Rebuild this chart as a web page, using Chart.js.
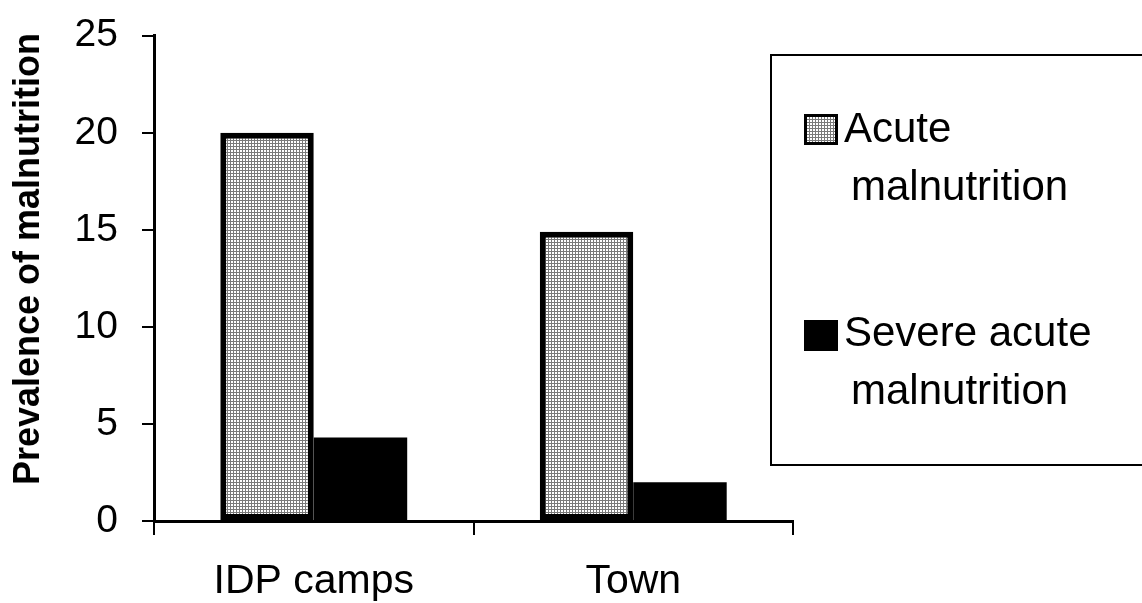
<!DOCTYPE html>
<html>
<head>
<meta charset="utf-8">
<title>Prevalence of malnutrition</title>
<script src="https://cdn.jsdelivr.net/npm/chart.js@4.4.1/dist/chart.umd.min.js"></script>
<style>
  html, body { margin: 0; padding: 0; background: #ffffff; }
  #wrap { width: 1142px; height: 603px; }
</style>
</head>
<body>
<div id="wrap"><canvas id="chart" width="1142" height="603"></canvas></div>
<script>
// Survey groups and prevalence (%) of each malnutrition type
const categories = ['IDP camps', 'Town'];
const acuteValues = [20, 14.9];
const severeValues = [4.3, 2.0];
const seriesLabels = [['Acute', 'malnutrition'], ['Severe acute', 'malnutrition']];
const yTicks = [0, 5, 10, 15, 20, 25];
const yTitle = 'Prevalence of malnutrition';

const FONT = '"Liberation Sans", Arial, Helvetica, sans-serif';

// Fine dotted grey fill used for the acute bars
function makeDotPattern() {
  const c = document.createElement('canvas');
  c.width = 3; c.height = 3;
  const g = c.getContext('2d');
  g.fillStyle = '#ffffff';
  g.fillRect(0, 0, 3, 3);
  g.fillStyle = '#7a7a7a';
  g.fillRect(0, 2, 3, 1);
  g.fillRect(2, 0, 1, 3);
  return document.getElementById('chart').getContext('2d').createPattern(c, 'repeat');
}
const dotPattern = makeDotPattern();

// Boxed legend with wrapped labels on the right side
const boxedLegend = {
  id: 'boxedLegend',
  afterDraw(chart) {
    const ctx = chart.ctx;
    ctx.save();
    ctx.strokeStyle = '#000';
    ctx.lineWidth = 2;
    ctx.strokeRect(771, 55, 400, 410);
    const rows = [
      { markerTop: 114, baselines: [142, 200] },
      { markerTop: 320, baselines: [346, 404] }
    ];
    ctx.font = '42px ' + FONT;
    ctx.textBaseline = 'alphabetic';
    chart.data.datasets.forEach((ds, i) => {
      const r = rows[i];
      ctx.fillStyle = ds.backgroundColor;
      ctx.fillRect(804, r.markerTop, 34, 31);
      ctx.strokeStyle = '#000';
      ctx.lineWidth = 3;
      ctx.strokeRect(805.5, r.markerTop + 1.5, 31, 28);
      ctx.fillStyle = '#000';
      seriesLabels[i].forEach((line, j) => {
        ctx.fillText(line, j === 0 ? 844 : 851, r.baselines[j]);
      });
    });
    ctx.restore();
  }
};

// Rotated y-axis title
const yAxisTitle = {
  id: 'yAxisTitle',
  afterDraw(chart) {
    const ctx = chart.ctx;
    ctx.save();
    ctx.translate(29, 259);
    ctx.rotate(-Math.PI / 2);
    ctx.font = 'bold 36px ' + FONT;
    ctx.fillStyle = '#000';
    ctx.textAlign = 'center';
    ctx.textBaseline = 'middle';
    ctx.fillText(yTitle, 0, 0);
    ctx.restore();
  }
};

new Chart(document.getElementById('chart'), {
  type: 'bar',
  data: {
    labels: categories,
    datasets: [
      {
        label: seriesLabels[0].join(' '),
        data: acuteValues,
        backgroundColor: dotPattern,
        borderColor: '#000',
        borderWidth: 6,
        borderSkipped: false,
        categoryPercentage: 0.585,
        barPercentage: 1.0
      },
      {
        label: seriesLabels[1].join(' '),
        data: severeValues,
        backgroundColor: '#000',
        borderColor: '#000',
        borderWidth: 0,
        categoryPercentage: 0.585,
        barPercentage: 1.0
      }
    ]
  },
  options: {
    responsive: false,
    animation: false,
    devicePixelRatio: 1,
    layout: { padding: { top: 35, right: 349, left: 0, bottom: 0 } },
    plugins: {
      legend: { display: false },
      tooltip: { enabled: false }
    },
    scales: {
      x: {
        afterFit(s) { s.height = 82; },
        grid: {
          offset: true,
          drawOnChartArea: false,
          drawTicks: true,
          tickLength: 14,
          color: '#000',
          lineWidth: 2
        },
        border: { display: true, color: '#000', width: 3 },
        ticks: {
          color: '#000',
          padding: 22,
          font: { family: FONT, size: 41 }
        }
      },
      y: {
        min: 0,
        max: 25,
        afterFit(s) { s.width = 154; },
        afterBuildTicks(s) { s.ticks = yTicks.map(v => ({ value: v })); },
        grid: {
          drawOnChartArea: false,
          drawTicks: true,
          tickLength: 12,
          color: '#000',
          lineWidth: 2
        },
        border: { display: true, color: '#000', width: 3 },
        ticks: {
          color: '#000',
          padding: 24,
          font: { family: FONT, size: 39, lineHeight: 0.6 }
        }
      }
    }
  },
  plugins: [boxedLegend, yAxisTitle]
});
</script>
</body>
</html>
